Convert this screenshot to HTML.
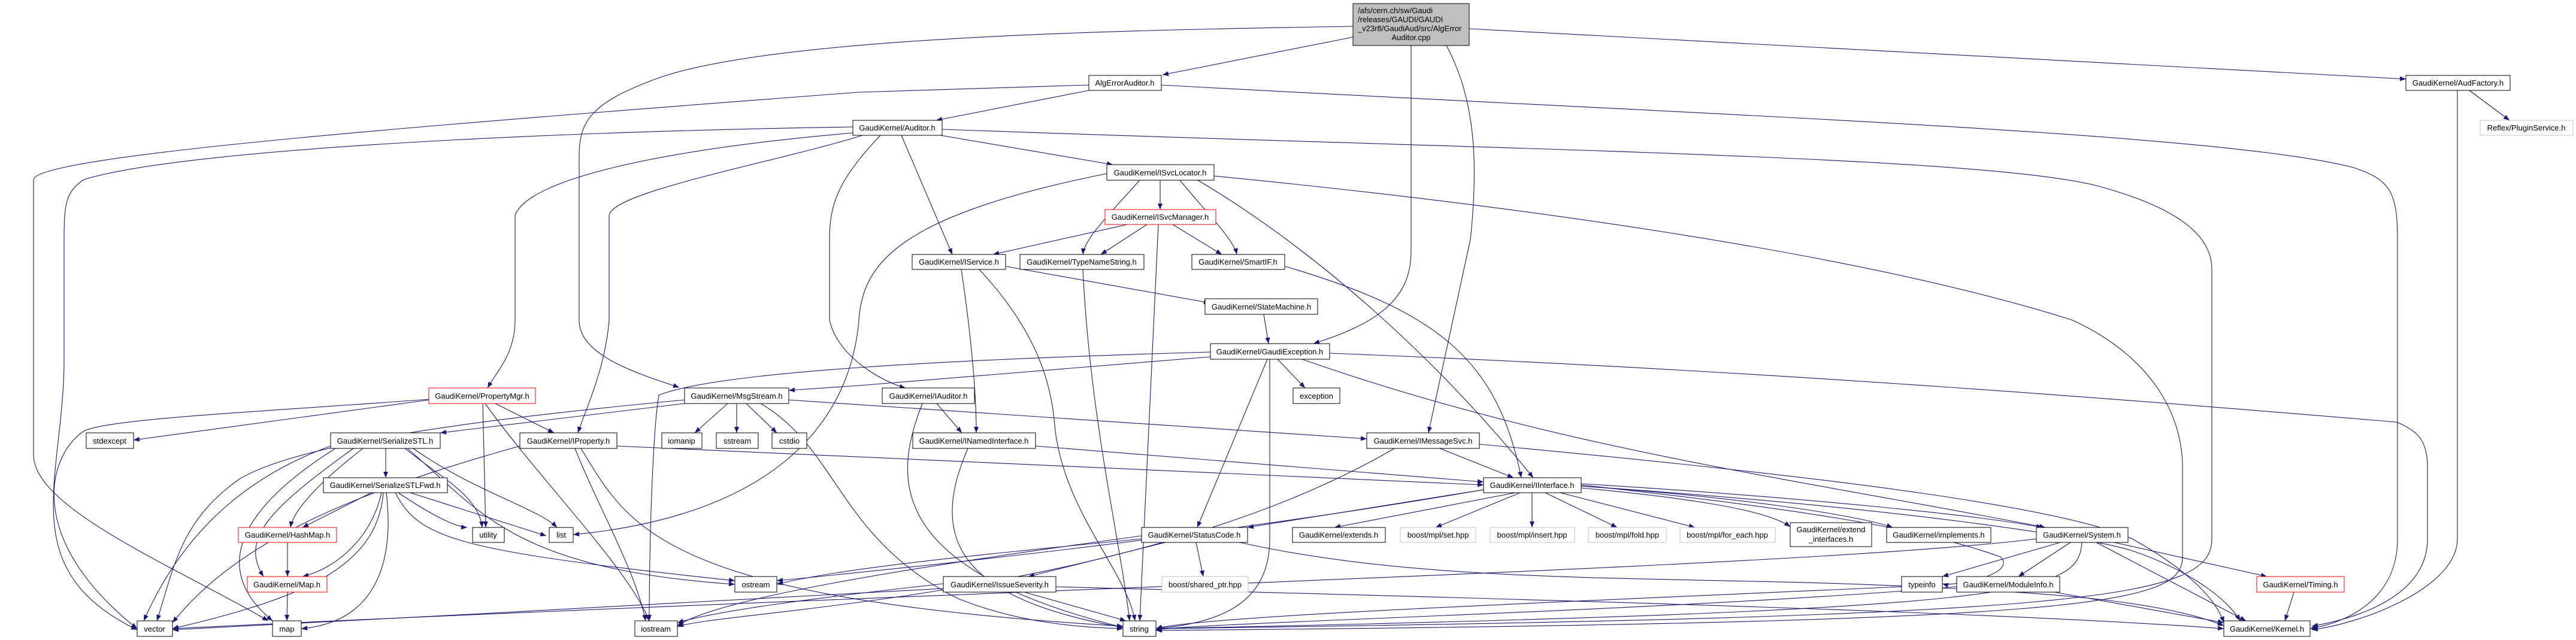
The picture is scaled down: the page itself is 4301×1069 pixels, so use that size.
<!DOCTYPE html>
<html><head><meta charset="utf-8"><style>
html,body{margin:0;padding:0;background:#fff;}
svg{display:block;}
text{font-family:"Liberation Sans",sans-serif;font-size:13px;fill:#000;}
.n{fill:#fff;stroke:#000;stroke-width:1;}
.r{fill:#fff;stroke:#ff0000;stroke-width:1;}
.g{fill:#fff;stroke:#bfbfbf;stroke-width:1;}
.e{fill:none;stroke:#191970;stroke-width:1.1;}
</style></head><body>
<svg width="4301" height="1069" viewBox="0 0 4301 1069" xmlns="http://www.w3.org/2000/svg">
<defs><marker id="a" viewBox="0 0 10 8" refX="10" refY="4" markerWidth="11" markerHeight="8" markerUnits="userSpaceOnUse" orient="auto"><path d="M0,0 L10,4 L0,8 z" fill="#191970"/></marker></defs>
<g marker-end="url(#a)">
<path class="e" d="M2259,62 L1941,125"/>
<path class="e" d="M2453,48 L4017,132"/>
<path class="e" d="M2356,76 L2356,420 C2356,500 2300,540 2193,574"/>
<path class="e" d="M2415,76 C2460,160 2470,260 2455,400 L2385,723"/>
<path class="e" d="M2259,44 C1900,50 1300,60 1100,130 C990,170 967,200 967,260 L967,535 C967,590 1050,620 1134,647"/>
<path class="e" d="M1818,151 L1563,201"/>
<path class="e" d="M1818,142 L1434,154 C700,210 60,260 56,300 L56,760 C56,850 300,950 448,1037"/>
<path class="e" d="M1939,142 C2800,190 3700,220 3930,280 C3990,300 4003,320 4003,400 L4003,900 C4003,1000 3920,1040 3857,1050"/>
<path class="e" d="M4103,151 L4103,900 C4103,980 3950,1040 3860,1052"/>
<path class="e" d="M4123,151 L4190,201"/>
<path class="e" d="M1424,212 C900,220 300,250 140,300 C110,320 107,340 107,400 L107,600 C107,800 20,950 229,1052"/>
<path class="e" d="M1424,222 C1100,250 880,300 860,360 L860,535 C860,590 830,620 814,648"/>
<path class="e" d="M1440,226 C1300,270 1020,320 1017,360 L1017,535 C1010,620 975,690 965,723"/>
<path class="e" d="M1470,226 C1400,300 1385,340 1385,400 L1385,535 C1400,600 1480,640 1512,648"/>
<path class="e" d="M1570,226 L1858,275"/>
<path class="e" d="M1505,226 L1590,425"/>
<path class="e" d="M1573,216 C2500,250 3300,260 3500,310 C3650,350 3693,400 3693,450 L3693,900 C3693,1000 3500,1030 1930,1050"/>
<path class="e" d="M1937,301 L1937,350"/>
<path class="e" d="M1903,301 C1850,360 1810,400 1808,425"/>
<path class="e" d="M1970,301 C2010,350 2060,400 2065,425"/>
<path class="e" d="M1848,290 C1500,360 1440,440 1434,535 C1420,700 1300,860 957,893"/>
<path class="e" d="M2000,301 C2200,420 2400,600 2560,798"/>
<path class="e" d="M2027,294 C2500,340 3100,420 3461,535 C3600,600 3644,700 3644,780 L3644,930 C3644,1010 3500,1040 1930,1053"/>
<path class="e" d="M1882,375 L1658,425"/>
<path class="e" d="M1915,375 L1838,425"/>
<path class="e" d="M1958,375 L2040,425"/>
<path class="e" d="M1934,375 L1903,1037"/>
<path class="e" d="M1680,445 L2020,506"/>
<path class="e" d="M1605,450 C1620,550 1630,650 1630,723"/>
<path class="e" d="M1635,450 C1700,520 1750,600 1760,700 C1770,850 1880,950 1895,1037"/>
<path class="e" d="M1808,450 C1820,700 1870,900 1886,1037"/>
<path class="e" d="M2146,445 C2400,520 2500,600 2540,798"/>
<path class="e" d="M2110,525 L2118,574"/>
<path class="e" d="M2133,600 L2179,648"/>
<path class="e" d="M2021,596 L1434,644 L1317,652"/>
<path class="e" d="M2021,588 C1600,600 1200,620 1100,660 C1090,720 1084,900 1084,1037"/>
<path class="e" d="M2116,600 L1999,881"/>
<path class="e" d="M2120,600 L2120,900 C2120,1000 2050,1040 1930,1050"/>
<path class="e" d="M2174,600 C2600,750 3000,800 3415,881"/>
<path class="e" d="M2220,590 C3000,620 3700,680 4001,705 C4040,720 4053,740 4053,780 L4053,900 C4053,990 3950,1030 3860,1046"/>
<path class="e" d="M716,668 L223,735"/>
<path class="e" d="M716,667 C400,690 180,700 140,720 C80,760 40,900 229,1050"/>
<path class="e" d="M827,674 L925,723"/>
<path class="e" d="M806,674 L811,881"/>
<path class="e" d="M810,674 C900,800 1050,950 1084,1037"/>
<path class="e" d="M1143,674 L735,723"/>
<path class="e" d="M1215,674 L1160,723"/>
<path class="e" d="M1230,674 L1230,723"/>
<path class="e" d="M1246,674 L1297,723"/>
<path class="e" d="M1143,668 C800,700 500,740 400,800 C300,870 290,950 262,1037"/>
<path class="e" d="M1270,674 C1400,750 1400,900 1600,1000 C1700,1040 1800,1048 1875,1050"/>
<path class="e" d="M1317,668 L2282,733"/>
<path class="e" d="M644,749 L644,798"/>
<path class="e" d="M552,745 C400,800 300,900 240,1037"/>
<path class="e" d="M560,749 C400,850 350,950 455,1037"/>
<path class="e" d="M606,749 C540,800 490,850 485,881"/>
<path class="e" d="M590,749 C450,850 400,900 440,963"/>
<path class="e" d="M676,749 C740,800 800,830 805,881"/>
<path class="e" d="M690,749 C790,820 900,850 930,881"/>
<path class="e" d="M680,749 C800,850 850,950 1227,976"/>
<path class="e" d="M620,823 L505,881"/>
<path class="e" d="M637,823 C620,900 560,950 505,963"/>
<path class="e" d="M640,823 C630,950 500,1000 288,1050"/>
<path class="e" d="M645,823 C660,950 620,1040 503,1050"/>
<path class="e" d="M665,823 C720,860 760,880 780,881"/>
<path class="e" d="M685,823 L912,895"/>
<path class="e" d="M660,823 C700,900 760,920 1227,970"/>
<path class="e" d="M480,906 L480,963"/>
<path class="e" d="M480,989 L479,1037"/>
<path class="e" d="M868,745 C600,820 400,900 288,1040"/>
<path class="e" d="M960,749 C1000,850 1060,950 1078,1037"/>
<path class="e" d="M970,749 C1050,880 1100,1000 1875,1046"/>
<path class="e" d="M1030,745 L2477,810"/>
<path class="e" d="M1564,674 L1606,723"/>
<path class="e" d="M1540,674 C1490,800 1480,950 1875,1048"/>
<path class="e" d="M1729,745 L2477,805"/>
<path class="e" d="M1616,749 C1550,900 1600,1000 1875,1048"/>
<path class="e" d="M2404,749 L2527,798"/>
<path class="e" d="M2328,749 C1900,1000 1200,1020 1131,1047"/>
<path class="e" d="M2470,742 C3100,800 3450,850 3560,900 C3650,950 3700,1000 3713,1040"/>
<path class="e" d="M2477,818 L2083,881"/>
<path class="e" d="M2530,823 L2228,881"/>
<path class="e" d="M2538,823 L2397,881"/>
<path class="e" d="M2558,823 L2558,881"/>
<path class="e" d="M2580,823 L2700,881"/>
<path class="e" d="M2605,823 L2830,881"/>
<path class="e" d="M2640,815 C2800,830 2950,850 2989,880"/>
<path class="e" d="M2640,812 C2900,830 3100,860 3160,881"/>
<path class="e" d="M2640,808 C3000,830 3300,860 3410,881"/>
<path class="e" d="M2477,818 C2000,900 1500,950 1297,970"/>
<path class="e" d="M2640,810 C3000,850 3200,880 3340,930 C3370,960 3260,980 3243,975"/>
<path class="e" d="M2640,812 C3200,850 3500,900 3560,920 C3650,950 3720,1000 3740,1037"/>
<path class="e" d="M1997,906 L2009,963"/>
<path class="e" d="M1946,906 L1717,963"/>
<path class="e" d="M1906,900 C1600,930 1400,950 1297,976"/>
<path class="e" d="M2070,906 C2400,980 2800,960 3200,980 C3400,990 3600,1000 3713,1045"/>
<path class="e" d="M1906,895 C1500,950 1200,1000 1131,1045"/>
<path class="e" d="M1710,989 L1880,1037"/>
<path class="e" d="M1763,980 C2500,1000 3300,1020 3713,1050"/>
<path class="e" d="M1575,975 C1350,1000 1200,1020 1131,1040"/>
<path class="e" d="M1575,983 C1300,1000 700,1030 288,1052"/>
<path class="e" d="M3440,906 L3243,963"/>
<path class="e" d="M3457,906 L3370,963"/>
<path class="e" d="M3530,906 L3785,963"/>
<path class="e" d="M3500,906 L3750,1037"/>
<path class="e" d="M3476,906 C3470,990 3400,1020 1930,1050"/>
<path class="e" d="M3400,900 C3000,950 1500,990 288,1050"/>
<path class="e" d="M3267,980 C2800,1020 2000,1040 1930,1052"/>
<path class="e" d="M3430,989 L3713,1040"/>
<path class="e" d="M3830,989 L3815,1037"/>
<path class="e" d="M3175,980 C2500,1010 2000,1030 1930,1050"/>
</g>
<g>
<rect x="2259" y="6" width="194" height="70" fill="#bfbfbf" stroke="#000"/>
<text x="2267" y="22">/afs/cern.ch/sw/Gaudi</text>
<text x="2267" y="37">/releases/GAUDI/GAUDI</text>
<text x="2267" y="52">_v23r8/GaudiAud/src/AlgError</text>
<text x="2356" y="67" text-anchor="middle">Auditor.cpp</text>
</g>
<g text-anchor="middle">
<rect class="n" x="1818" y="126" width="121" height="25"/><text x="1878" y="143">AlgErrorAuditor.h</text>
<rect class="n" x="4017" y="126" width="174" height="25"/><text x="4104" y="143">GaudiKernel/AudFactory.h</text>
<rect class="n" x="1424" y="201" width="149" height="25"/><text x="1498" y="218">GaudiKernel/Auditor.h</text>
<rect class="g" x="4141" y="201" width="155" height="25"/><text x="4218" y="218">Reflex/PluginService.h</text>
<rect class="n" x="1848" y="275" width="179" height="26"/><text x="1937" y="293">GaudiKernel/ISvcLocator.h</text>
<rect class="r" x="1845" y="350" width="185" height="25"/><text x="1937" y="367">GaudiKernel/ISvcManager.h</text>
<rect class="n" x="1523" y="425" width="156" height="25"/><text x="1601" y="442">GaudiKernel/IService.h</text>
<rect class="n" x="1703" y="425" width="207" height="25"/><text x="1806" y="442">GaudiKernel/TypeNameString.h</text>
<rect class="n" x="1990" y="425" width="155" height="25"/><text x="2067" y="442">GaudiKernel/SmartIF.h</text>
<rect class="n" x="2012" y="499" width="188" height="26"/><text x="2106" y="517">GaudiKernel/StateMachine.h</text>
<rect class="n" x="2021" y="574" width="199" height="26"/><text x="2120" y="592">GaudiKernel/GaudiException.h</text>
<rect class="n" x="2159" y="648" width="78" height="26"/><text x="2198" y="666">exception</text>
<rect class="n" x="1473" y="648" width="154" height="26"/><text x="1550" y="666">GaudiKernel/IAuditor.h</text>
<rect class="r" x="716" y="648" width="178" height="26"/><text x="805" y="666">GaudiKernel/PropertyMgr.h</text>
<rect class="n" x="1143" y="648" width="174" height="26"/><text x="1230" y="666">GaudiKernel/MsgStream.h</text>
<rect class="n" x="144" y="723" width="79" height="26"/><text x="183" y="741">stdexcept</text>
<rect class="n" x="552" y="723" width="183" height="26"/><text x="643" y="741">GaudiKernel/SerializeSTL.h</text>
<rect class="n" x="868" y="723" width="162" height="26"/><text x="949" y="741">GaudiKernel/IProperty.h</text>
<rect class="n" x="1105" y="723" width="67" height="26"/><text x="1138" y="741">iomanip</text>
<rect class="n" x="1196" y="723" width="70" height="26"/><text x="1231" y="741">sstream</text>
<rect class="n" x="1289" y="723" width="58" height="26"/><text x="1318" y="741">cstdio</text>
<rect class="n" x="1524" y="723" width="205" height="26"/><text x="1626" y="741">GaudiKernel/INamedInterface.h</text>
<rect class="n" x="2282" y="723" width="188" height="26"/><text x="2376" y="741">GaudiKernel/IMessageSvc.h</text>
<rect class="n" x="540" y="798" width="207" height="25"/><text x="643" y="815">GaudiKernel/SerializeSTLFwd.h</text>
<rect class="n" x="2477" y="798" width="163" height="25"/><text x="2558" y="815">GaudiKernel/IInterface.h</text>
<rect class="r" x="398" y="881" width="164" height="25"/><text x="480" y="898">GaudiKernel/HashMap.h</text>
<rect class="n" x="789" y="881" width="53" height="25"/><text x="815" y="898">utility</text>
<rect class="n" x="917" y="881" width="40" height="25"/><text x="937" y="898">list</text>
<rect class="n" x="1906" y="881" width="177" height="25"/><text x="1994" y="898">GaudiKernel/StatusCode.h</text>
<rect class="n" x="2158" y="881" width="155" height="25"/><text x="2235" y="898">GaudiKernel/extends.h</text>
<rect class="g" x="2338" y="881" width="126" height="25"/><text x="2401" y="898">boost/mpl/set.hpp</text>
<rect class="g" x="2488" y="881" width="141" height="25"/><text x="2558" y="898">boost/mpl/insert.hpp</text>
<rect class="g" x="2652" y="881" width="130" height="25"/><text x="2717" y="898">boost/mpl/fold.hpp</text>
<rect class="g" x="2805" y="881" width="159" height="25"/><text x="2884" y="898">boost/mpl/for_each.hpp</text>
<rect class="n" x="2989" y="873" width="136" height="40"/><text x="3057" y="889">GaudiKernel/extend</text><text x="3057" y="905">_interfaces.h</text>
<rect class="n" x="3150" y="881" width="174" height="25"/><text x="3237" y="898">GaudiKernel/implements.h</text>
<rect class="n" x="3400" y="881" width="153" height="25"/><text x="3476" y="898">GaudiKernel/System.h</text>
<rect class="r" x="413" y="963" width="133" height="26"/><text x="479" y="981">GaudiKernel/Map.h</text>
<rect class="n" x="1227" y="963" width="70" height="26"/><text x="1262" y="981">ostream</text>
<rect class="n" x="1575" y="963" width="188" height="26"/><text x="1669" y="981">GaudiKernel/IssueSeverity.h</text>
<rect class="g" x="1940" y="963" width="144" height="26"/><text x="2012" y="981">boost/shared_ptr.hpp</text>
<rect class="n" x="3175" y="963" width="68" height="26"/><text x="3209" y="981">typeinfo</text>
<rect class="n" x="3267" y="963" width="172" height="26"/><text x="3353" y="981">GaudiKernel/ModuleInfo.h</text>
<rect class="r" x="3768" y="963" width="146" height="26"/><text x="3841" y="981">GaudiKernel/Timing.h</text>
<rect class="n" x="229" y="1037" width="59" height="26"/><text x="258" y="1055">vector</text>
<rect class="n" x="455" y="1037" width="48" height="26"/><text x="479" y="1055">map</text>
<rect class="n" x="1060" y="1037" width="71" height="26"/><text x="1095" y="1055">iostream</text>
<rect class="n" x="1875" y="1037" width="55" height="26"/><text x="1902" y="1055">string</text>
<rect class="n" x="3713" y="1037" width="144" height="26"/><text x="3785" y="1055">GaudiKernel/Kernel.h</text>
</g>
</svg>
</body></html>
